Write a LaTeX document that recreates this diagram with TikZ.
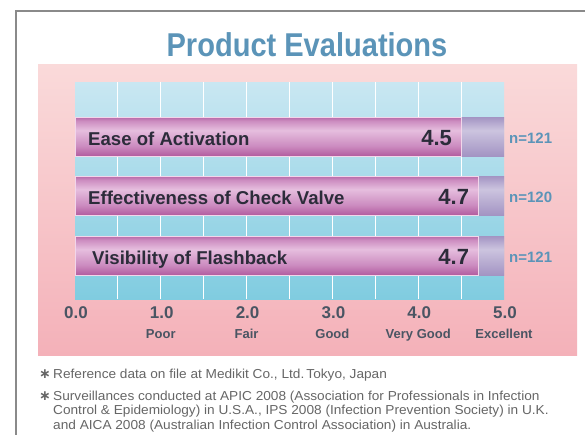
\documentclass[tikz,border=0pt]{standalone}
\usepackage{fontspec}
\setmainfont{Liberation Sans}
\newfontfamily\condfont[FakeStretch=0.88]{Liberation Sans}
\newfontfamily\widefont[FakeStretch=1.05]{Liberation Sans}
\newfontfamily\symfont{DejaVu Sans}
\definecolor{framegray}{HTML}{8A8A8A}
\definecolor{titleblue}{HTML}{5B94B8}
\definecolor{pinktop}{HTML}{FADADA}
\definecolor{pinkbot}{HTML}{F4B1B9}
\definecolor{bluetop}{HTML}{C9E7F2}
\definecolor{bluebot}{HTML}{80CCE0}
\definecolor{bardarktop}{HTML}{B768A8}
\definecolor{barlight}{HTML}{E6BEDE}
\definecolor{barmid}{HTML}{CC8CC0}
\definecolor{bardarkbot}{HTML}{B25C9F}
\definecolor{barline}{HTML}{F2D6EA}
\definecolor{lavdark}{HTML}{A394C3}
\definecolor{lavlight}{HTML}{CCC4DF}
\definecolor{labelink}{HTML}{2C2C3A}
\definecolor{axisink}{HTML}{4A5563}
\definecolor{footink}{HTML}{666666}
\pgfdeclareverticalshading{barshade}{100bp}{color(0bp)=(bardarkbot); color(25bp)=(bardarkbot); color(38bp)=(barmid); color(58bp)=(barlight); color(70bp)=(barmid); color(75bp)=(bardarktop); color(100bp)=(bardarktop)}
\pgfdeclareverticalshading{lavshade}{100bp}{color(0bp)=(lavdark); color(25bp)=(lavdark); color(58bp)=(lavlight); color(75bp)=(lavdark); color(100bp)=(lavdark)}
\tikzset{
  titlestyle/.style={inner sep=0pt, text=titleblue, font=\condfont\bfseries\fontsize{33}{36}\selectfont},
  barlabel/.style={inner sep=0pt, text=labelink, font=\bfseries\fontsize{18.6}{20}\selectfont},
  valuelabel/.style={inner sep=0pt, text=labelink, font=\bfseries\fontsize{22}{24}\selectfont},
  nlabel/.style={inner sep=0pt, text=titleblue, font=\bfseries\fontsize{15}{17}\selectfont},
  ticklabel/.style={inner sep=0pt, text=axisink, font=\bfseries\fontsize{17}{19}\selectfont},
  sublabel/.style={inner sep=0pt, text=axisink, font=\bfseries\fontsize{13}{15}\selectfont},
  foot/.style={inner sep=0pt, text=footink, font=\widefont\fontsize{13}{15}\selectfont},
  footstar/.style={inner sep=0pt, text=footink, font=\symfont\bfseries\fontsize{14}{15}\selectfont}
}
\begin{document}
\begin{tikzpicture}[x=1pt,y=-1pt]
\useasboundingbox (0,0) rectangle (585,434);
\fill[white] (0,0) rectangle (585,434);
% frame
\draw[framegray, line width=1.5pt] (16,440) -- (16,11) -- (590,11);
% title
\node[titlestyle, anchor=base] (title) at (307,56) {Product Evaluations};
% panel
\shade[top color=pinktop, bottom color=pinkbot] (38,64) rectangle (577,355);
\shade[top color=bluetop, bottom color=bluebot] (75,82) rectangle (504,299);
\foreach \i in {1,...,9}
  \draw[white, line width=1pt] ({75+\i*42.9},82) -- ({75+\i*42.9},299);
% bars
\foreach \y/\v/\lab/\lx/\n/\k in {117/4.5/Ease of Activation/88/121/1, 176/4.7/Effectiveness of Check Valve/88/120/2, 236/4.7/Visibility of Flashback/92/121/3}{
  \pgfmathsetmacro\xe{75+\v*85.8}
  \shade[shading=lavshade] (\xe,\y) rectangle (504,{\y+39});
  \shade[shading=barshade, draw=barline, line width=0.7pt] (75,\y) rectangle (\xe,{\y+39});
  \node[barlabel, anchor=base west] (lab\k) at (\lx,{\y+28}) {\lab};
  \node[valuelabel, anchor=base east] (val\k) at ({\xe-9},{\y+28}) {\v};
  \node[nlabel, anchor=base west] (n\k) at (509,{\y+26}) {n=\n};
}
% axis labels
\foreach \t/\s [count=\k] in {0/,1/Poor,2/Fair,3/Good,4/Very Good,5/Excellent}{
  \node[ticklabel, anchor=base] (tick\k) at ({76+\t*85.8},318) {\t.0};
  \node[sublabel, anchor=base] (sub\k) at ({75+\t*85.8},338) {\s};
}
% footnotes
\node[footstar, anchor=base west] (s1) at (39,378) {∗};
\node[foot, anchor=base west] (f1) at (53,378) {Reference data on file at Medikit Co., Ltd.\,Tokyo, Japan};
\node[footstar, anchor=base west] (s2) at (39,400) {∗};
\node[foot, anchor=base west] (f2) at (53,400) {Surveillances conducted at APIC 2008 (Association for Professionals in Infection};
\node[foot, anchor=base west] (f3) at (53,414.5) {Control \& Epidemiology) in U.S.A., IPS 2008 (Infection Prevention Society) in U.K.};
\node[foot, anchor=base west] (f4) at (53,429) {and AICA 2008 (Australian Infection Control Association) in Australia.};
\end{tikzpicture}
\end{document}
